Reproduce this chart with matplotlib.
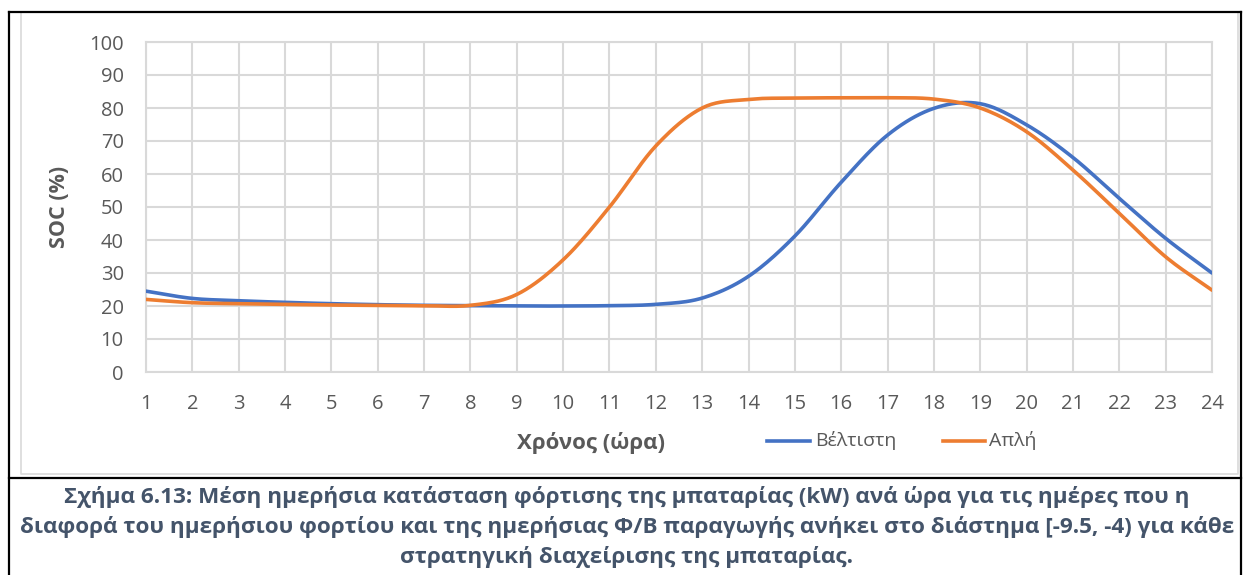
import numpy as np
import matplotlib
matplotlib.use("Agg")
import matplotlib.pyplot as plt
from matplotlib.lines import Line2D

plt.rcParams['font.family'] = ['Open Sans', 'DejaVu Sans']

# Hours of the day and the average battery state of charge (%)
hours = list(range(1, 25))
soc_optimal = [24.5, 22.3, 21.6, 21.1, 20.7, 20.4, 20.2, 20.1, 20.0, 20.0, 20.1, 20.5,
               22.4, 29.0, 41.2, 57.5, 71.8, 79.9, 81.3, 74.9, 65.0, 52.6, 40.5, 30.0]
soc_simple = [22.0, 21.0, 20.7, 20.5, 20.3, 20.2, 20.1, 20.2, 23.5, 34.0, 50.0, 68.5,
              80.0, 82.6, 83.0, 83.1, 83.1, 82.7, 80.0, 72.8, 61.2, 48.1, 34.9, 24.8]

series_names = ["Βέλτιστη", "Απλή"]
series_colors = ["#4472C4", "#ED7D31"]
y_ticks = list(range(0, 101, 10))
x_label = "Χρόνος (ώρα)"
y_label = "SOC (%)"
caption_lines = [
    "Σχήμα 6.13: Μέση ημερήσια κατάσταση φόρτισης της μπαταρίας (kW) ανά ώρα για τις ημέρες που η",
    "διαφορά του ημερήσιου φορτίου και της ημερήσιας Φ/Β παραγωγής ανήκει στο διάστημα [-9.5, -4) για κάθε",
    "στρατηγική διαχείρισης της μπαταρίας.",
]


def smooth_curve(x, y, steps=20):
    """Catmull-Rom curve through the given points (smoothed line rendering)."""
    x = np.asarray(x, float)
    y = np.asarray(y, float)
    px = np.concatenate([[2 * x[0] - x[1]], x, [2 * x[-1] - x[-2]]])
    py = np.concatenate([[2 * y[0] - y[1]], y, [2 * y[-1] - y[-2]]])
    xs, ys = [], []
    t = np.linspace(0, 1, steps, endpoint=False)
    for i in range(1, len(px) - 2):
        for arr, out in ((px, xs), (py, ys)):
            p0, p1, p2, p3 = arr[i - 1], arr[i], arr[i + 1], arr[i + 2]
            out.extend(0.5 * ((2 * p1) + (-p0 + p2) * t
                              + (2 * p0 - 5 * p1 + 4 * p2 - p3) * t ** 2
                              + (-p0 + 3 * p1 - 3 * p2 + p3) * t ** 3))
    xs.append(x[-1])
    ys.append(y[-1])
    return np.array(xs), np.array(ys)


W, H = 1244, 575
fig = plt.figure(figsize=(W / 100, H / 100), dpi=100)


def fx(px):
    return px / W


def fy(py):
    return 1 - py / H


ax = fig.add_axes([fx(146), fy(372), fx(1212) - fx(146), fy(42) - fy(372)])
grid_c = "#D9D9D9"
for s in ax.spines.values():
    s.set_color(grid_c)
    s.set_linewidth(1.5)

for vals, name, col in zip([soc_optimal, soc_simple], series_names, series_colors):
    sx, sy = smooth_curve(hours, vals)
    ax.plot(sx, sy, color=col, lw=2.6, label=name, solid_capstyle="round", zorder=3)

ax.set_xlim(hours[0], hours[-1])
ax.set_ylim(y_ticks[0], y_ticks[-1])
ax.set_xticks(hours)
ax.set_xticklabels([str(h) for h in hours])
ax.set_yticks(y_ticks)
ax.grid(True, color=grid_c, lw=1.5)
ax.set_axisbelow(True)
ax.tick_params(axis="both", length=0, labelsize=14.5, labelcolor="#595959")
ax.tick_params(axis="y", pad=16)
ax.tick_params(axis="x", pad=16)

fig.text(fx(60), fy(207), y_label, rotation=90, ha="center", va="center",
         fontsize=15.5, fontweight="bold", color="#595959")
fig.text(fx(591), fy(443), x_label, ha="center", va="center",
         fontsize=16, fontweight="bold", color="#595959")

# Legend drawn as line samples with labels
legend_items = [(767, 810, 815), (943, 985, 989)]
for (x0, x1, xt), name, col in zip(legend_items, series_names, series_colors):
    fig.add_artist(Line2D([fx(x0), fx(x1)], [fy(441), fy(441)], color=col, lw=2.6,
                          transform=fig.transFigure))
    fig.text(fx(xt), fy(441), name, ha="left", va="center", fontsize=14, color="#595959")

# Chart frame and caption box
fig.add_artist(Line2D([fx(21), fx(21), fx(1238), fx(1238)],
                      [fy(12), fy(474), fy(474), fy(12)],
                      color=grid_c, lw=1.2, transform=fig.transFigure))
for xs_, ys_ in [([9, 9], [12, 575]), ([1241, 1241], [12, 575]),
                 ([9, 1241], [12, 12]), ([9, 1241], [478, 478])]:
    fig.add_artist(Line2D([fx(v) for v in xs_], [fy(v) for v in ys_],
                          color="black", lw=1.6, transform=fig.transFigure))

for i, line in enumerate(caption_lines):
    fig.text(fx(627), fy(497 + 30 * i), line, ha="center", va="center",
             fontsize=16.2, fontweight="bold", color="#44546A")

fig.savefig("out.png", dpi=100)
